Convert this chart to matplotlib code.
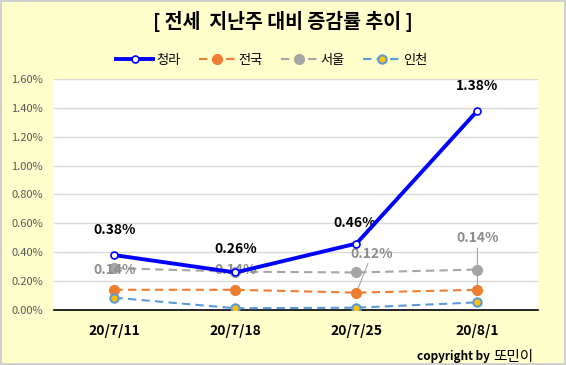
import matplotlib
matplotlib.use("Agg")
import matplotlib.pyplot as plt
from matplotlib.ticker import FuncFormatter, MultipleLocator

plt.rcParams['font.family'] = ['Noto Sans CJK KR', 'DejaVu Sans']

categories = ["20/7/11", "20/7/18", "20/7/25", "20/8/1"]
cheongna = [0.38, 0.26, 0.46, 1.38]
national = [0.14, 0.14, 0.12, 0.14]
seoul = [0.29, 0.265, 0.26, 0.28]
incheon = [0.085, 0.012, 0.016, 0.053]

fig = plt.figure(figsize=(5.66, 3.65), dpi=100)
fig.patch.set_facecolor('#FFFFCC')
fig.patch.set_edgecolor('#D0D0D0')
fig.patch.set_linewidth(1.5)

ax = fig.add_axes([0.0954, 0.1507, 0.855, 0.633])
ax.set_facecolor('white')
x = list(range(len(categories)))

ax.plot(x, cheongna, color='#0000FF', lw=2.8, marker='o', ms=5,
        mfc='white', mec='#0000FF', mew=1.2, label='청라', zorder=5)
ax.plot(x, national, color='#ED7D31', lw=1.5, ls=(0, (4, 2.5)), marker='o', ms=7,
        mfc='#ED7D31', mec='#ED7D31', label='전국', zorder=4)
ax.plot(x, seoul, color='#A5A5A5', lw=1.5, ls=(0, (4, 2.5)), marker='o', ms=7,
        mfc='#A5A5A5', mec='#A5A5A5', label='서울', zorder=3)
ax.plot(x, incheon, color='#5B9BD5', lw=1.5, ls=(0, (4, 2.5)), marker='o', ms=6,
        mfc='#FFC000', mec='#5B9BD5', mew=1.5, label='인천', zorder=4)

ax.set_xlim(-0.5, 3.5)
ax.set_ylim(0, 1.6)
ax.yaxis.set_major_locator(MultipleLocator(0.2))
ax.yaxis.set_major_formatter(FuncFormatter(lambda v, p: f"{v:.2f}%"))
ax.grid(axis='y', color='#D9D9D9', lw=1)
ax.set_axisbelow(True)
for s in ['top', 'right', 'left']:
    ax.spines[s].set_visible(False)
ax.spines['bottom'].set_color('black')
ax.spines['bottom'].set_linewidth(1.2)
ax.tick_params(axis='y', length=0, labelsize=8, labelcolor='#595959', pad=8)
ax.tick_params(axis='x', length=0, pad=10)
ax.set_xticks(x)
ax.set_xticklabels(categories, fontsize=10, fontweight='bold', color='black')

# 청라 labels
offs = [(0, 13), (0, 12), (-1, 10), (0, 13)]
for i, v in enumerate(cheongna):
    ax.annotate(f"{v:.2f}%", (x[i], v), xytext=offs[i], textcoords='offset points',
                ha='center', va='bottom', fontsize=10, fontweight='bold', color='black')

# 전국 labels (gray)
goffs = [(0, 9), (0, 9), (11, 23), (0, 32)]
for i, v in enumerate(national):
    if i >= 2:
        ax.annotate(f"{v:.2f}%", (x[i], v), xytext=goffs[i], textcoords='offset points',
                    ha='center', va='bottom', fontsize=10, fontweight='bold', color='#8C8C8C',
                    arrowprops=dict(arrowstyle='-', color='#A5A5A5', lw=0.8, shrinkA=0, shrinkB=3))
    else:
        ax.annotate(f"{v:.2f}%", (x[i], v), xytext=goffs[i], textcoords='offset points',
                    ha='center', va='bottom', fontsize=10, fontweight='bold', color='#8C8C8C')

fig.text(0.5, 0.94, "[ 전세  지난주 대비 증감률 추이 ]", ha='center', va='center',
         fontsize=14, fontweight='bold', color='black')

leg = fig.legend(loc='center', bbox_to_anchor=(0.48, 0.835), ncol=4, frameon=False,
                 fontsize=9.5, handlelength=2.8, columnspacing=1.4, handletextpad=0.2)

name = fig.text(0.942, 0.022, "또민이", ha='right', va='center',
                fontsize=10.5, color='black')
fig.canvas.draw()
bb = name.get_window_extent(fig.canvas.get_renderer())
x0 = bb.x0 / fig.bbox.width
fig.text(x0 - 0.005, 0.022, "copyright by", ha='right', va='center',
         fontsize=8.5, fontweight='bold', color='black')

fig.savefig("out.png", dpi=100, facecolor=fig.get_facecolor(), edgecolor=fig.get_edgecolor())
